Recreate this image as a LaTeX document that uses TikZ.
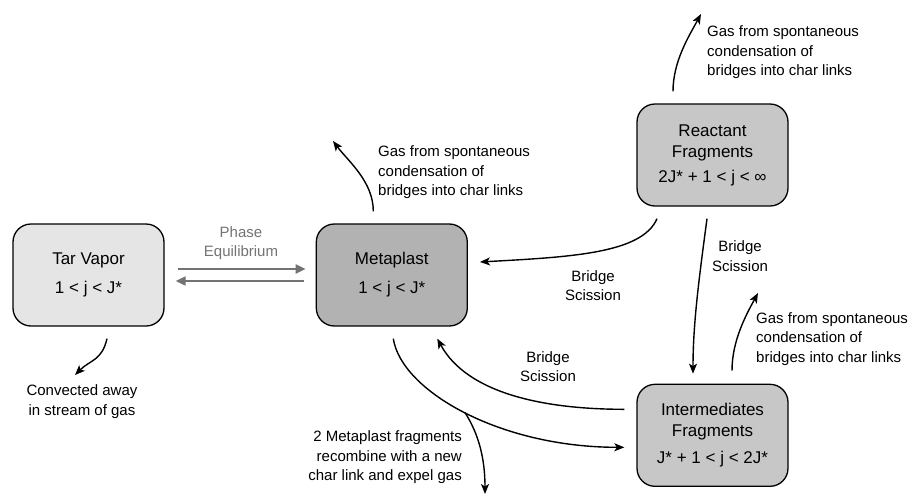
\documentclass[tikz,border=0pt]{standalone}
\usepackage{fontspec}
\setmainfont{Liberation Sans}
\usetikzlibrary{arrows.meta,positioning}

\begin{document}
\begin{tikzpicture}[x=1pt, y=-1pt]
    \tikzstyle{stage} = [rectangle, rounded corners=18pt, draw=black, line width=1.3pt,
        minimum width=151pt, minimum height=102pt, align=center,
        font=\fontsize{17}{21}\selectfont]
    \tikzstyle{note} = [inner sep=0pt, align=left, font=\fontsize{15}{19.5}\selectfont]
    \tikzstyle{flow} = [line width=1.4pt, -{Stealth[length=10pt, width=8pt, inset=2.5pt]}]
    \tikzstyle{phase} = [line width=2pt, draw=black!55, -{Triangle[length=10pt, width=9pt]}]
    \useasboundingbox (0,0) rectangle (909,496);

    % the four pools of fragments
    \node (tar) [stage, fill=black!10] at (88.5,275) {Tar Vapor\\[8pt]1 < j < J*};
    \node (metaplast) [stage, fill=black!30, right=151pt of tar] {Metaplast\\[8pt]1 < j < J*};
    \node (reactant) [stage, fill=black!22] at (712.5,155) {Reactant\\Fragments\\[4pt]2J* + 1 < j < ∞};
    \node (intermediates) [stage, fill=black!22, below=177pt of reactant] {Intermediates\\Fragments\\[6pt]J* + 1 < j < 2J*};

    % labels
    \node (phaselbl) [note, align=center, text=black!55] at (241,243) {Phase\\Equilibrium};
    \node (convected) [note, align=center] at (82,401.5) {Convected away\\in stream of gas};
    \node (metagas) [note, anchor=west] at (378,172.5) {Gas from spontaneous\\condensation of\\bridges into char links};
    \node (reactgas) [note, anchor=west] at (707,52.5) {Gas from spontaneous\\condensation of\\bridges into char links};
    \node (intergas) [note, anchor=west] at (756,339) {Gas from spontaneous\\condensation of\\bridges into char links};
    \node (scissiona) [note, align=center] at (593,285.5) {Bridge\\Scission};
    \node (scissionb) [note, align=center] at (548,366.5) {Bridge\\Scission};
    \node (scissionc) [note, align=center] at (740,256) {Bridge\\Scission};
    \node (recombine) [note, anchor=east, align=right] at (462,457.5) {2 Metaplast fragments\\recombine with a new\\char link and expel gas};

    % free ends
    \coordinate (convectend) at (75,375);
    \coordinate (metagasend) at (333,141);
    \coordinate (reactgasend) at (701,14);
    \coordinate (intergasend) at (758,293);
    \coordinate (gasout) at (485,494);

    % phase equilibrium
    \draw [phase] ([shift={(13,-6)}]tar.east) -- ([shift={(-10,-6)}]metaplast.west);
    \draw [phase] ([shift={(-12,6)}]metaplast.west) -- ([shift={(11,6)}]tar.east);

    % gas release
    \draw [flow] ([shift={(18.5,12)}]tar.south) .. controls +(-5,22) and +(15,-15) .. (convectend);
    \draw [flow] ([shift={(-18.5,-12)}]metaplast.north) .. controls +(0,-30) and +(15,20) .. (metagasend);
    \draw [flow] ([shift={(-39.5,-12)}]reactant.north) .. controls +(0,-30) and +(-12,22) .. (reactgasend);
    \draw [flow] ([shift={(19.5,-13)}]intermediates.north) .. controls +(0,-30) and +(-12,22) .. (intergasend);

    % bridge scission
    \draw [flow] ([shift={(-5.5,12)}]reactant.south) .. controls +(-8,60) and +(0,-50) .. ([shift={(-19.5,-10)}]intermediates.north);
    \draw [flow] ([shift={(-55.5,12)}]reactant.south) .. controls +(-15,35) and +(90,-5) .. ([shift={(12,-13)}]metaplast.east);
    \draw [flow] ([shift={(-12,-26)}]intermediates.west) .. controls +(-80,0) and +(30,55) .. ([shift={(45.5,12)}]metaplast.south);

    % recombination
    \draw [flow] ([shift={(1.5,12)}]metaplast.south) .. controls +(8,52) and +(-125,0) .. ([shift={(-12,12)}]intermediates.west) coordinate[pos=0.5] (split);
    \draw [flow] (split) .. controls +(14,22) and +(0,-35) .. (gasout);
\end{tikzpicture}
\end{document}
